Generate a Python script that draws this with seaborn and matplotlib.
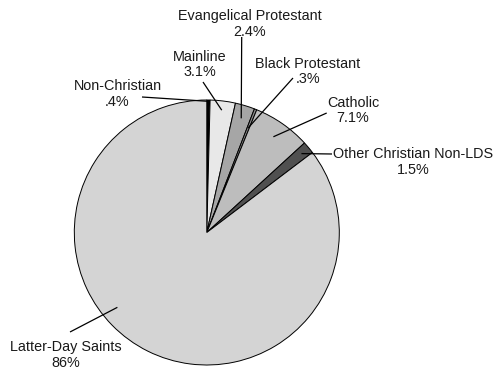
import numpy as np
import matplotlib
matplotlib.use("Agg")
import matplotlib.pyplot as plt
import seaborn as sns

# ---- data ----
categories = ["Non-Christian", "Mainline", "Evangelical Protestant", "Black Protestant",
              "Catholic", "Other Christian Non-LDS", "Latter-Day Saints"]
values = [0.4, 3.1, 2.4, 0.3, 7.1, 1.5, 86]
value_labels = [".4%", "3.1%", "2.4%", ".3%", "7.1%", "1.5%", "86%"]

# ---- style ----
sns.set_style("white")
plt.rcParams['font.family'] = ['Liberation Sans', 'DejaVu Sans']
colors = ["#000000", "#e8e8e8", "#a6a6a6", "#8a8a8a", "#bdbdbd", "#505050", "#d4d4d4"]

W, H = 495, 370
R = 132.5
cx, cy = 206.8, 232.5  # pixels from top-left

fig = plt.figure(figsize=(W / 100, H / 100), dpi=100)
ax = fig.add_axes([0, 0, 1, 1])

wedges, _ = ax.pie(values, colors=colors, startangle=90, counterclock=False,
                   wedgeprops=dict(edgecolor="black", linewidth=0.7))

def px(x, y):
    return ((x - cx) / R, (cy - y) / R)

ax.set_xlim(-cx / R, (W - cx) / R)
ax.set_ylim(-(H - cy) / R, cy / R)
ax.set_aspect('auto')
ax.axis('off')

# layout: label block centre (px), line start (px), anchor fraction along wedge, radius fraction
text_pos = [(117.5, 94), (200, 64.5), (249.5, 24), (308, 71.5), (353, 110.5), (413, 162), (66, 355)]
line_start = [(142, 97), (203, 82), (241.7, 37), (293, 78), (326.7, 113), (332, 154), (70, 332)]
ang_frac = [0.5, 0.5, 0.5, 0.5, 0.5, 0.5, 0.423]
rad_frac = [0.99, 0.93, 0.9, 0.85, 0.88, 0.93, 0.88]

for w, cat, lab, tp, ls, af, rf in zip(wedges, categories, value_labels, text_pos,
                                       line_start, ang_frac, rad_frac):
    ang = np.deg2rad(w.theta1 + (w.theta2 - w.theta1) * af)
    tx, ty = px(*tp)
    ax.text(tx, ty, f"{cat}\n{lab}", ha="center", va="center", fontsize=10.4,
            color="#1a1a1a", linespacing=1.15)
    sx, sy = px(*ls)
    ax.plot([sx, rf * np.cos(ang)], [sy, rf * np.sin(ang)], color="black", lw=0.9,
            solid_capstyle="butt")

fig.savefig("out.png", dpi=100)
